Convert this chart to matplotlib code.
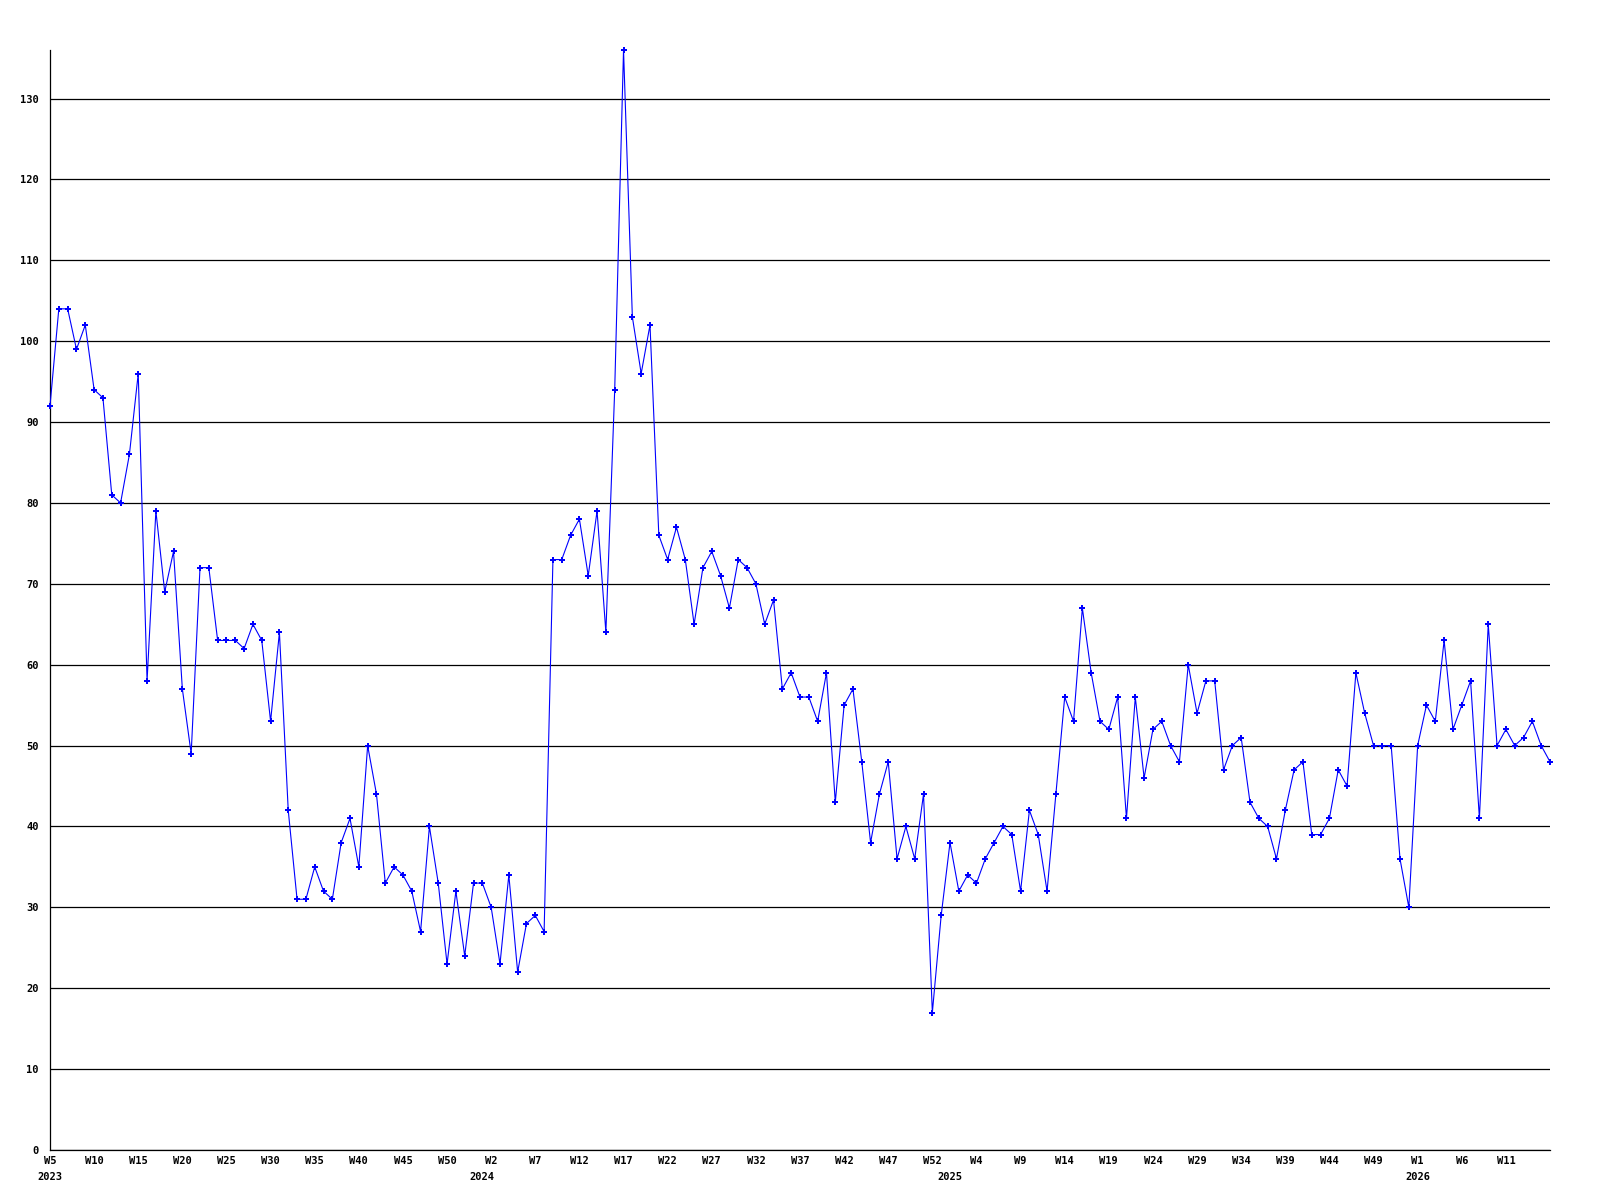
import matplotlib
matplotlib.use('Agg')
import matplotlib.pyplot as plt

# weekly counts, starting 2023 W5
values_2023 = [92, 104, 104, 99, 102, 94, 93, 81, 80, 86, 96, 58, 79, 69, 74, 57, 49,
               72, 72, 63, 63, 63, 62, 65, 63, 53, 64, 42, 31, 31, 35, 32, 31, 38, 41,
               35, 50, 44, 33, 35, 34, 32, 27, 40, 33, 23, 32, 24, 33]
values_2024 = [33, 30, 23, 34, 22, 28, 29, 27, 73, 73, 76, 78, 71, 79, 64, 94, 136,
               103, 96, 102, 76, 73, 77, 73, 65, 72, 74, 71, 67, 73, 72, 70, 65, 68,
               57, 59, 56, 56, 53, 59, 43, 55, 57, 48, 38, 44, 48, 36, 40, 36, 44, 17, 29]
values_2025 = [38, 32, 34, 33, 36, 38, 40, 39, 32, 42, 39, 32, 44, 56, 53, 67, 59, 53,
               52, 56, 41, 56, 46, 52, 53, 50, 48, 60, 54, 58, 58, 47, 50, 51, 43, 41,
               40, 36, 42, 47, 48, 39, 39, 41, 47, 45, 59, 54, 50, 50, 50, 36, 30]
values_2026 = [50, 55, 53, 63, 52, 55, 58, 41, 65, 50, 52, 50, 51, 53, 50, 48]
values = values_2023 + values_2024 + values_2025 + values_2026

# x tick labels, one every 5 weeks
week_labels = ['W5', 'W10', 'W15', 'W20', 'W25', 'W30', 'W35', 'W40', 'W45', 'W50',
               'W2', 'W7', 'W12', 'W17', 'W22', 'W27', 'W32', 'W37', 'W42', 'W47', 'W52',
               'W4', 'W9', 'W14', 'W19', 'W24', 'W29', 'W34', 'W39', 'W44', 'W49',
               'W1', 'W6', 'W11']
years = ['2023', '2024', '2025', '2026']
year_pos = [0, len(values_2023), len(values_2023) + len(values_2024),
            len(values_2023) + len(values_2024) + len(values_2025)]

x = list(range(len(values)))

fig = plt.figure(figsize=(16, 12), dpi=100)
ax = fig.add_axes([50 / 1600, 50 / 1200, 1500 / 1600, 1100 / 1200])

ax.plot(x, values, color='#0000ff', linewidth=0.8, marker='P', markersize=4,
        markeredgewidth=0, clip_on=False, zorder=3)

ax.set_xlim(0, len(values) - 1)
ax.set_ylim(0, max(values))

ax.set_yticks(range(0, 140, 10))
ax.yaxis.grid(True, color='black', linewidth=0.9)
ax.set_axisbelow(True)

ax.set_xticks(range(0, 5 * len(week_labels), 5))
ax.set_xticklabels(week_labels)

for lab in ax.get_xticklabels() + ax.get_yticklabels():
    lab.set_fontfamily('DejaVu Sans Mono')
    lab.set_fontweight('bold')
    lab.set_fontsize(7.5)
ax.tick_params(axis='both', length=0)
ax.tick_params(axis='y', pad=8)
ax.tick_params(axis='x', pad=4)

for spine in ['top', 'right']:
    ax.spines[spine].set_visible(False)
ax.spines['left'].set_linewidth(0.9)
ax.spines['bottom'].set_linewidth(0.9)

for yr, pos in zip(years, year_pos):
    ax.text(pos, -0.0245, yr, transform=ax.get_xaxis_transform(),
            ha='center', va='center', fontsize=7.5, fontweight='bold',
            family='DejaVu Sans Mono')

fig.savefig('out.png', dpi=100)
